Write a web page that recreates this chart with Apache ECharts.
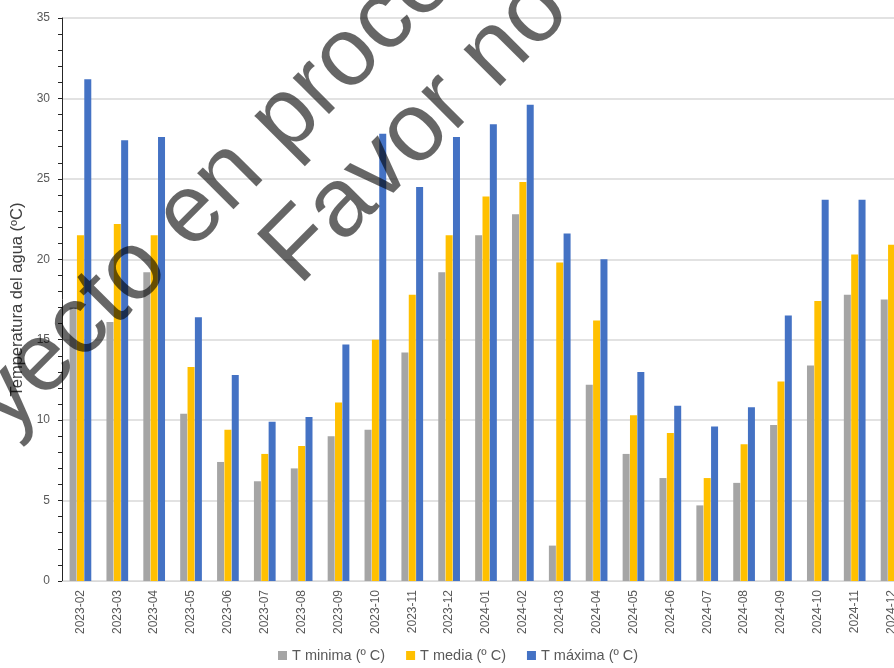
<!DOCTYPE html>
<html>
<head>
<meta charset="utf-8">
<title>Temperatura del agua</title>
<script src="https://cdn.jsdelivr.net/npm/echarts@6/dist/echarts.min.js"></script>
<style>
  html, body { margin: 0; padding: 0; background: #ffffff; }
  #chart { width: 894px; height: 668px; }
</style>
</head>
<body>
<div id="chart"></div>
<script>
// Monthly water temperature (ºC)
const months = ['2023-02','2023-03','2023-04','2023-05','2023-06','2023-07','2023-08','2023-09','2023-10','2023-11','2023-12',
                '2024-01','2024-02','2024-03','2024-04','2024-05','2024-06','2024-07','2024-08','2024-09','2024-10','2024-11','2024-12'];
const tMinima = [17.0, 16.1, 19.2, 10.4, 7.4, 6.2, 7.0, 9.0, 9.4, 14.2, 19.2, 21.5, 22.8, 2.2, 12.2, 7.9, 6.4, 4.7, 6.1, 9.7, 13.4, 17.8, 17.5];
const tMedia  = [21.5, 22.2, 21.5, 13.3, 9.4, 7.9, 8.4, 11.1, 15.0, 17.8, 21.5, 23.9, 24.8, 19.8, 16.2, 10.3, 9.2, 6.4, 8.5, 12.4, 17.4, 20.3, 20.9];
const tMaxima = [31.2, 27.4, 27.6, 16.4, 12.8, 9.9, 10.2, 14.7, 27.8, 24.5, 27.6, 28.4, 29.6, 21.6, 20.0, 13.0, 10.9, 9.6, 10.8, 16.5, 23.7, 23.7, null];

const seriesNames = ['T minima (º C)', 'T media (º C)', 'T máxima (º C)'];
const seriesColors = ['#a5a5a5', '#ffc000', '#4472c4'];
const yTicks = { min: 0, max: 35, interval: 5 };
const watermarkLines = ['Proyecto en proceso', 'Favor no citar'];

const FONT = '"Liberation Sans", Arial, sans-serif';
const chart = echarts.init(document.getElementById('chart'), null, { renderer: 'canvas' });

function barSeries(name, data, color) {
  return {
    name: name,
    type: 'bar',
    data: data,
    barWidth: 7,
    barGap: '5%',
    itemStyle: { color: color },
    emphasis: { disabled: true }
  };
}

const option = {
  animation: false,
  backgroundColor: '#ffffff',
  textStyle: { fontFamily: FONT },
  // the plot runs on past the right edge of the canvas
  grid: { left: 62, top: 18, width: 848, height: 563, containLabel: false, outerBoundsMode: 'none' },
  legend: {
    data: seriesNames,
    left: 278,
    top: 648,
    padding: 0,
    itemWidth: 9,
    itemHeight: 9,
    itemGap: 21,
    icon: 'rect',
    textStyle: { color: '#595959', fontSize: 14.5, fontFamily: FONT }
  },
  xAxis: {
    type: 'category',
    data: months,
    axisLine: { lineStyle: { color: '#d9d9d9', width: 1 } },
    axisTick: { show: false },
    axisLabel: { rotate: 90, margin: 9, color: '#595959', fontSize: 12, fontFamily: FONT, interval: 0 }
  },
  yAxis: {
    type: 'value',
    min: yTicks.min,
    max: yTicks.max,
    interval: yTicks.interval,
    name: 'Temperatura del agua (ºC)',
    nameLocation: 'middle',
    nameRotate: 90,
    nameGap: 34,
    nameTextStyle: { color: '#404040', fontSize: 16.5, fontFamily: FONT },
    axisLine: { show: true, lineStyle: { color: '#262626', width: 1 } },
    axisTick: { show: true, length: 4, lineStyle: { color: '#262626' } },
    minorTick: { show: true, splitNumber: 5, length: 4, lineStyle: { color: '#262626' } },
    axisLabel: { margin: 12, color: '#595959', fontSize: 12, fontFamily: FONT },
    splitLine: { show: true, lineStyle: { color: '#d9d9d9', width: 1.5 } }
  },
  series: [
    barSeries(seriesNames[0], tMinima, seriesColors[0]),
    barSeries(seriesNames[1], tMedia, seriesColors[1]),
    barSeries(seriesNames[2], tMaxima, seriesColors[2])
  ],
  graphic: [
    {
      type: 'text', x: -118, y: 523, rotation: Math.PI / 4, z: 100, silent: true,
      style: { text: watermarkLines[0], fill: 'rgba(0,0,0,0.6)', fontSize: 97, fontFamily: FONT,
               textAlign: 'left', textVerticalAlign: 'middle', align: 'left', verticalAlign: 'middle' }
    },
    {
      type: 'text', x: 280, y: 268, rotation: Math.PI / 4, z: 100, silent: true,
      style: { text: watermarkLines[1], fill: 'rgba(0,0,0,0.6)', fontSize: 98, fontFamily: FONT,
               textAlign: 'left', textVerticalAlign: 'middle', align: 'left', verticalAlign: 'middle' }
    }
  ]
};

chart.setOption(option);
</script>
</body>
</html>
